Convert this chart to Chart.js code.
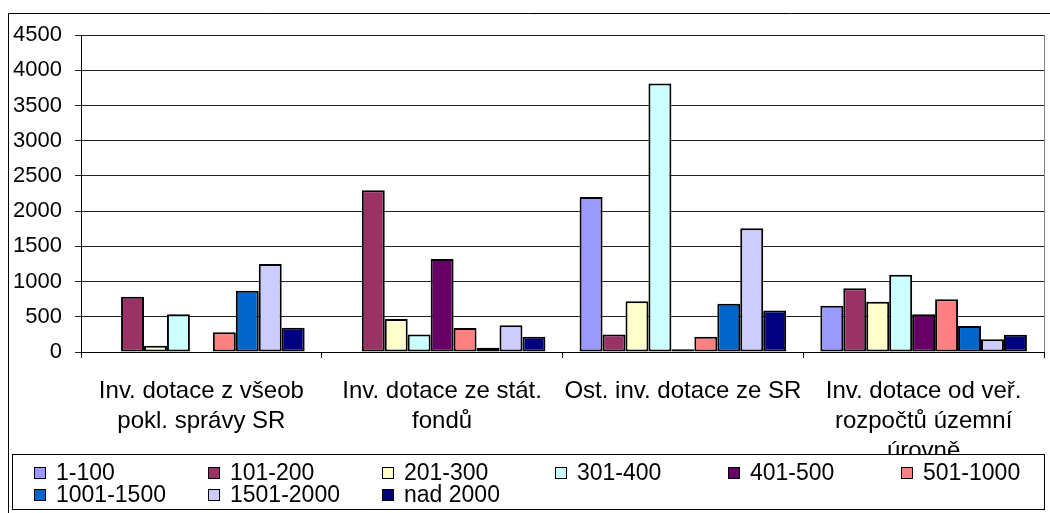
<!DOCTYPE html>
<html>
<head>
<meta charset="utf-8">
<script src="https://cdn.jsdelivr.net/npm/chart.js@4/dist/chart.umd.min.js"></script>
<style>
html,body{margin:0;padding:0;background:#fff;}
canvas{display:block;}
</style>
</head>
<body>
<canvas id="c" width="1050" height="513"></canvas>
<script>
const categories = [
  ["Inv. dotace z všeob", "pokl. správy SR"],
  ["Inv. dotace ze stát.", "fondů"],
  ["Ost. inv. dotace ze SR"],
  ["Inv. dotace od veř.", "rozpočtů územní", "úrovně"]
];
const seriesNames = ["1-100","101-200","201-300","301-400","401-500","501-1000","1001-1500","1501-2000","nad 2000"];
const s1_100     = [0, 0, 2200, 655];
const s101_200   = [785, 2295, 250, 905];
const s201_300   = [90, 470, 720, 715];
const s301_400   = [535, 250, 3810, 1095];
const s401_500   = [0, 1320, 38, 535];
const s501_1000  = [280, 340, 215, 750];
const s1001_1500 = [870, 60, 685, 370];
const s1501_2000 = [1250, 380, 1755, 180];
const sNad2000   = [345, 215, 590, 245];
const seriesColors = ["#9999FF","#993366","#FFFFCC","#CCFFFF","#660066","#FF8080","#0066CC","#CCCCFF","#000080"];
const yTicks = [0,500,1000,1500,2000,2500,3000,3500,4000,4500];

const seriesValues = [s1_100,s101_200,s201_300,s301_400,s401_500,s501_1000,s1001_1500,s1501_2000,sNad2000];
const FONT = "'Liberation Sans', Arial, sans-serif";

const decor = {
  id: 'decor',
  afterDraw(chart) {
    const ctx = chart.ctx;
    const a = chart.chartArea;
    ctx.save();
    // plot area right border
    ctx.strokeStyle = '#808080';
    ctx.lineWidth = 1;
    ctx.beginPath();
    ctx.moveTo(Math.round(a.right) + 0.5, a.top);
    ctx.lineTo(Math.round(a.right) + 0.5, a.bottom);
    ctx.stroke();
    // outer chart border
    ctx.strokeStyle = '#000';
    ctx.beginPath();
    ctx.moveTo(8.5, 600);
    ctx.lineTo(8.5, 13.5);
    ctx.lineTo(1100, 13.5);
    ctx.stroke();
    // legend box
    const lx = 12, ly = 454, lw = 1032, lh = 55;
    ctx.fillStyle = '#fff';
    ctx.fillRect(lx, ly, lw, lh);
    ctx.strokeStyle = '#000';
    ctx.strokeRect(lx + 0.5, ly + 0.5, lw, lh);
    ctx.font = '23px ' + FONT;
    ctx.textBaseline = 'middle';
    ctx.textAlign = 'left';
    const colX = [34, 208, 382, 555, 728, 901];
    const rowY = [473, 495];
    chart.data.datasets.forEach((ds, i) => {
      const x = colX[i % 6];
      const y = rowY[Math.floor(i / 6)];
      ctx.fillStyle = ds.backgroundColor;
      ctx.fillRect(x, y - 6, 12, 12);
      ctx.strokeStyle = '#000';
      ctx.strokeRect(x + 0.5, y - 5.5, 11, 11);
      ctx.fillStyle = '#000';
      ctx.fillText(ds.label, x + 22, y + 1);
    });
    ctx.restore();
  }
};

new Chart(document.getElementById('c'), {
  type: 'bar',
  data: {
    labels: categories,
    datasets: seriesNames.map((n, i) => ({
      label: n,
      data: seriesValues[i],
      backgroundColor: seriesColors[i],
      borderColor: '#000',
      borderWidth: 2,
      borderSkipped: false,
      barPercentage: 1.0,
      categoryPercentage: 0.858
    }))
  },
  options: {
    responsive: false,
    animation: false,
    devicePixelRatio: 1,
    layout: { padding: { top: 35, right: 6, left: 0, bottom: 0 } },
    plugins: { legend: { display: false }, tooltip: { enabled: false } },
    scales: {
      x: {
        afterFit(s) { s.height = 161; },
        grid: { display: true, offset: true, drawOnChartArea: false, drawTicks: true, tickLength: 6, color: '#000', lineWidth: 1 },
        border: { display: true, color: '#000', width: 1 },
        ticks: { autoSkip: false, maxRotation: 0, minRotation: 0, color: '#000', padding: 18,
                 font: { family: FONT, size: 24, lineHeight: '30px' } }
      },
      y: {
        min: 0, max: 4500,
        afterFit(s) { s.width = 81; },
        afterBuildTicks(s) { s.ticks = yTicks.map(v => ({ value: v })); },
        grid: { color: '#222', lineWidth: 1, drawTicks: true, tickLength: 6 },
        border: { display: true, color: '#000', width: 1 },
        ticks: { color: '#000', padding: 13, font: { family: FONT, size: 22 },
                 callback: (v) => String(v) }
      }
    }
  },
  plugins: [decor]
});
</script>
</body>
</html>
